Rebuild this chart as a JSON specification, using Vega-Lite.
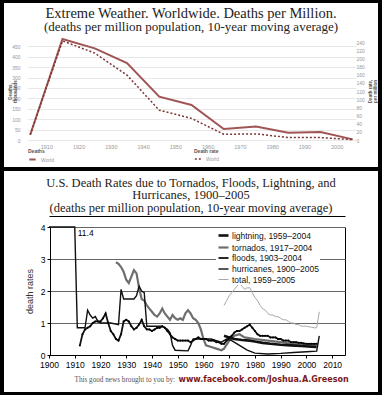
{
  "$schema": "https://vega.github.io/schema/vega-lite/v6.json",
  "background": "black",
  "padding": {"left": 4, "right": 4, "top": 3, "bottom": 3},
  "spacing": 4,
  "config": {"view": {"fill": "white", "stroke": null}, "font": "Liberation Sans"},
  "resolve": {
    "scale": {"color": "independent", "strokeDash": "independent", "strokeWidth": "independent"},
    "legend": {"color": "independent", "strokeDash": "independent", "strokeWidth": "independent"}
  },
  "datasets": {
    "world": [
      {"year": 1905, "deaths": 25, "rate": 13},
      {"year": 1915, "deaths": 485, "rate": 243},
      {"year": 1925, "deaths": 440, "rate": 213},
      {"year": 1935, "deaths": 370, "rate": 159},
      {"year": 1945, "deaths": 208, "rate": 73},
      {"year": 1955, "deaths": 168, "rate": 53},
      {"year": 1965, "deaths": 53, "rate": 14},
      {"year": 1975, "deaths": 65, "rate": 15},
      {"year": 1985, "deaths": 35, "rate": 6},
      {"year": 1995, "deaths": 38, "rate": 6},
      {"year": 2005, "deaths": 3, "rate": 1}
    ],
    "us": [
      {"s": "hurricanes, 1900–2005", "year": 1900, "v": 11.4},
      {"s": "hurricanes, 1900–2005", "year": 1905, "v": 11.4},
      {"s": "hurricanes, 1900–2005", "year": 1910, "v": 11.4},
      {"s": "hurricanes, 1900–2005", "year": 1911, "v": 0.85},
      {"s": "hurricanes, 1900–2005", "year": 1914, "v": 0.85},
      {"s": "hurricanes, 1900–2005", "year": 1915, "v": 1.4},
      {"s": "hurricanes, 1900–2005", "year": 1916, "v": 1.25},
      {"s": "hurricanes, 1900–2005", "year": 1917, "v": 1.15},
      {"s": "hurricanes, 1900–2005", "year": 1918, "v": 1.2},
      {"s": "hurricanes, 1900–2005", "year": 1919, "v": 1.05},
      {"s": "hurricanes, 1900–2005", "year": 1920, "v": 1.0},
      {"s": "hurricanes, 1900–2005", "year": 1924, "v": 1.0},
      {"s": "hurricanes, 1900–2005", "year": 1927, "v": 0.95},
      {"s": "hurricanes, 1900–2005", "year": 1928, "v": 2.05},
      {"s": "hurricanes, 1900–2005", "year": 1929, "v": 1.75},
      {"s": "hurricanes, 1900–2005", "year": 1933, "v": 1.75},
      {"s": "hurricanes, 1900–2005", "year": 1934, "v": 1.85},
      {"s": "hurricanes, 1900–2005", "year": 1935, "v": 2.15},
      {"s": "hurricanes, 1900–2005", "year": 1936, "v": 2.0},
      {"s": "hurricanes, 1900–2005", "year": 1937, "v": 1.95},
      {"s": "hurricanes, 1900–2005", "year": 1938, "v": 0.9},
      {"s": "hurricanes, 1900–2005", "year": 1944, "v": 0.9},
      {"s": "hurricanes, 1900–2005", "year": 1945, "v": 0.85},
      {"s": "hurricanes, 1900–2005", "year": 1946, "v": 0.8},
      {"s": "hurricanes, 1900–2005", "year": 1947, "v": 0.7},
      {"s": "hurricanes, 1900–2005", "year": 1948, "v": 0.3},
      {"s": "hurricanes, 1900–2005", "year": 1949, "v": 0.15},
      {"s": "hurricanes, 1900–2005", "year": 1954, "v": 0.13},
      {"s": "hurricanes, 1900–2005", "year": 1955, "v": 0.3},
      {"s": "hurricanes, 1900–2005", "year": 1956, "v": 0.5},
      {"s": "hurricanes, 1900–2005", "year": 1960, "v": 0.5},
      {"s": "hurricanes, 1900–2005", "year": 1963, "v": 0.5},
      {"s": "hurricanes, 1900–2005", "year": 1965, "v": 0.45},
      {"s": "hurricanes, 1900–2005", "year": 1967, "v": 0.4},
      {"s": "hurricanes, 1900–2005", "year": 1969, "v": 0.5},
      {"s": "hurricanes, 1900–2005", "year": 1971, "v": 0.45},
      {"s": "hurricanes, 1900–2005", "year": 1974, "v": 0.3},
      {"s": "hurricanes, 1900–2005", "year": 1977, "v": 0.15},
      {"s": "hurricanes, 1900–2005", "year": 1980, "v": 0.06},
      {"s": "hurricanes, 1900–2005", "year": 1985, "v": 0.03},
      {"s": "hurricanes, 1900–2005", "year": 1990, "v": 0.05},
      {"s": "hurricanes, 1900–2005", "year": 1995, "v": 0.08},
      {"s": "hurricanes, 1900–2005", "year": 2000, "v": 0.1},
      {"s": "hurricanes, 1900–2005", "year": 2004, "v": 0.12},
      {"s": "hurricanes, 1900–2005", "year": 2005, "v": 0.6},
      {"s": "tornados, 1917–2004", "year": 1926, "v": 2.9},
      {"s": "tornados, 1917–2004", "year": 1927, "v": 2.85},
      {"s": "tornados, 1917–2004", "year": 1928, "v": 2.75},
      {"s": "tornados, 1917–2004", "year": 1929, "v": 2.6},
      {"s": "tornados, 1917–2004", "year": 1930, "v": 2.35},
      {"s": "tornados, 1917–2004", "year": 1931, "v": 2.25},
      {"s": "tornados, 1917–2004", "year": 1932, "v": 2.45},
      {"s": "tornados, 1917–2004", "year": 1933, "v": 2.65},
      {"s": "tornados, 1917–2004", "year": 1934, "v": 2.55},
      {"s": "tornados, 1917–2004", "year": 1935, "v": 2.1},
      {"s": "tornados, 1917–2004", "year": 1936, "v": 1.75},
      {"s": "tornados, 1917–2004", "year": 1937, "v": 1.7},
      {"s": "tornados, 1917–2004", "year": 1938, "v": 1.55},
      {"s": "tornados, 1917–2004", "year": 1939, "v": 1.45},
      {"s": "tornados, 1917–2004", "year": 1940, "v": 1.35},
      {"s": "tornados, 1917–2004", "year": 1941, "v": 1.25},
      {"s": "tornados, 1917–2004", "year": 1942, "v": 1.2},
      {"s": "tornados, 1917–2004", "year": 1943, "v": 1.3},
      {"s": "tornados, 1917–2004", "year": 1944, "v": 1.45},
      {"s": "tornados, 1917–2004", "year": 1945, "v": 1.3},
      {"s": "tornados, 1917–2004", "year": 1946, "v": 1.2},
      {"s": "tornados, 1917–2004", "year": 1947, "v": 1.1},
      {"s": "tornados, 1917–2004", "year": 1948, "v": 1.25},
      {"s": "tornados, 1917–2004", "year": 1949, "v": 1.15},
      {"s": "tornados, 1917–2004", "year": 1950, "v": 1.1},
      {"s": "tornados, 1917–2004", "year": 1951, "v": 1.15},
      {"s": "tornados, 1917–2004", "year": 1952, "v": 1.1},
      {"s": "tornados, 1917–2004", "year": 1953, "v": 1.3},
      {"s": "tornados, 1917–2004", "year": 1954, "v": 1.4},
      {"s": "tornados, 1917–2004", "year": 1955, "v": 1.3},
      {"s": "tornados, 1917–2004", "year": 1956, "v": 1.15},
      {"s": "tornados, 1917–2004", "year": 1957, "v": 1.1},
      {"s": "tornados, 1917–2004", "year": 1958, "v": 1.0},
      {"s": "tornados, 1917–2004", "year": 1959, "v": 0.8},
      {"s": "tornados, 1917–2004", "year": 1960, "v": 0.5},
      {"s": "tornados, 1917–2004", "year": 1961, "v": 0.3},
      {"s": "tornados, 1917–2004", "year": 1963, "v": 0.25},
      {"s": "tornados, 1917–2004", "year": 1965, "v": 0.2},
      {"s": "tornados, 1917–2004", "year": 1967, "v": 0.15},
      {"s": "tornados, 1917–2004", "year": 1968, "v": 0.2},
      {"s": "tornados, 1917–2004", "year": 1970, "v": 0.45},
      {"s": "tornados, 1917–2004", "year": 1972, "v": 0.6},
      {"s": "tornados, 1917–2004", "year": 1974, "v": 0.65},
      {"s": "tornados, 1917–2004", "year": 1976, "v": 0.55},
      {"s": "tornados, 1917–2004", "year": 1980, "v": 0.5},
      {"s": "tornados, 1917–2004", "year": 1985, "v": 0.45},
      {"s": "tornados, 1917–2004", "year": 1990, "v": 0.4},
      {"s": "tornados, 1917–2004", "year": 1995, "v": 0.35},
      {"s": "tornados, 1917–2004", "year": 2000, "v": 0.3},
      {"s": "tornados, 1917–2004", "year": 2004, "v": 0.3},
      {"s": "floods, 1903–2004", "year": 1912, "v": 0.3},
      {"s": "floods, 1903–2004", "year": 1913, "v": 0.65},
      {"s": "floods, 1903–2004", "year": 1914, "v": 0.8},
      {"s": "floods, 1903–2004", "year": 1915, "v": 0.85},
      {"s": "floods, 1903–2004", "year": 1916, "v": 0.9},
      {"s": "floods, 1903–2004", "year": 1917, "v": 1.0},
      {"s": "floods, 1903–2004", "year": 1918, "v": 1.05},
      {"s": "floods, 1903–2004", "year": 1919, "v": 1.05},
      {"s": "floods, 1903–2004", "year": 1920, "v": 1.05},
      {"s": "floods, 1903–2004", "year": 1921, "v": 1.15},
      {"s": "floods, 1903–2004", "year": 1922, "v": 1.3},
      {"s": "floods, 1903–2004", "year": 1923, "v": 1.0},
      {"s": "floods, 1903–2004", "year": 1924, "v": 0.75},
      {"s": "floods, 1903–2004", "year": 1925, "v": 0.65},
      {"s": "floods, 1903–2004", "year": 1926, "v": 0.5},
      {"s": "floods, 1903–2004", "year": 1927, "v": 0.45},
      {"s": "floods, 1903–2004", "year": 1928, "v": 0.65},
      {"s": "floods, 1903–2004", "year": 1929, "v": 1.05},
      {"s": "floods, 1903–2004", "year": 1930, "v": 1.1},
      {"s": "floods, 1903–2004", "year": 1931, "v": 1.05},
      {"s": "floods, 1903–2004", "year": 1932, "v": 0.9},
      {"s": "floods, 1903–2004", "year": 1933, "v": 0.8},
      {"s": "floods, 1903–2004", "year": 1934, "v": 0.85},
      {"s": "floods, 1903–2004", "year": 1935, "v": 0.95},
      {"s": "floods, 1903–2004", "year": 1936, "v": 1.1},
      {"s": "floods, 1903–2004", "year": 1937, "v": 0.9},
      {"s": "floods, 1903–2004", "year": 1938, "v": 0.8},
      {"s": "floods, 1903–2004", "year": 1939, "v": 0.8},
      {"s": "floods, 1903–2004", "year": 1940, "v": 0.75},
      {"s": "floods, 1903–2004", "year": 1941, "v": 0.8},
      {"s": "floods, 1903–2004", "year": 1942, "v": 0.85},
      {"s": "floods, 1903–2004", "year": 1943, "v": 0.85},
      {"s": "floods, 1903–2004", "year": 1944, "v": 0.9},
      {"s": "floods, 1903–2004", "year": 1945, "v": 0.85},
      {"s": "floods, 1903–2004", "year": 1946, "v": 0.75},
      {"s": "floods, 1903–2004", "year": 1947, "v": 0.65},
      {"s": "floods, 1903–2004", "year": 1948, "v": 0.55},
      {"s": "floods, 1903–2004", "year": 1949, "v": 0.5},
      {"s": "floods, 1903–2004", "year": 1950, "v": 0.45},
      {"s": "floods, 1903–2004", "year": 1951, "v": 0.45},
      {"s": "floods, 1903–2004", "year": 1952, "v": 0.45},
      {"s": "floods, 1903–2004", "year": 1953, "v": 0.45},
      {"s": "floods, 1903–2004", "year": 1954, "v": 0.45},
      {"s": "floods, 1903–2004", "year": 1955, "v": 0.4},
      {"s": "floods, 1903–2004", "year": 1956, "v": 0.45},
      {"s": "floods, 1903–2004", "year": 1957, "v": 0.5},
      {"s": "floods, 1903–2004", "year": 1958, "v": 0.55},
      {"s": "floods, 1903–2004", "year": 1959, "v": 0.5},
      {"s": "floods, 1903–2004", "year": 1960, "v": 0.5},
      {"s": "floods, 1903–2004", "year": 1961, "v": 0.5},
      {"s": "floods, 1903–2004", "year": 1962, "v": 0.45},
      {"s": "floods, 1903–2004", "year": 1963, "v": 0.45},
      {"s": "floods, 1903–2004", "year": 1964, "v": 0.45},
      {"s": "floods, 1903–2004", "year": 1965, "v": 0.4},
      {"s": "floods, 1903–2004", "year": 1966, "v": 0.4},
      {"s": "floods, 1903–2004", "year": 1967, "v": 0.35},
      {"s": "floods, 1903–2004", "year": 1968, "v": 0.35},
      {"s": "floods, 1903–2004", "year": 1969, "v": 0.45},
      {"s": "floods, 1903–2004", "year": 1970, "v": 0.55},
      {"s": "floods, 1903–2004", "year": 1971, "v": 0.6},
      {"s": "floods, 1903–2004", "year": 1972, "v": 0.7},
      {"s": "floods, 1903–2004", "year": 1973, "v": 0.75},
      {"s": "floods, 1903–2004", "year": 1974, "v": 0.75},
      {"s": "floods, 1903–2004", "year": 1975, "v": 0.8},
      {"s": "floods, 1903–2004", "year": 1976, "v": 0.85},
      {"s": "floods, 1903–2004", "year": 1977, "v": 0.9},
      {"s": "floods, 1903–2004", "year": 1978, "v": 0.95},
      {"s": "floods, 1903–2004", "year": 1979, "v": 0.85},
      {"s": "floods, 1903–2004", "year": 1980, "v": 0.75},
      {"s": "floods, 1903–2004", "year": 1981, "v": 0.65},
      {"s": "floods, 1903–2004", "year": 1982, "v": 0.6},
      {"s": "floods, 1903–2004", "year": 1983, "v": 0.6},
      {"s": "floods, 1903–2004", "year": 1984, "v": 0.6},
      {"s": "floods, 1903–2004", "year": 1985, "v": 0.6},
      {"s": "floods, 1903–2004", "year": 1986, "v": 0.55},
      {"s": "floods, 1903–2004", "year": 1987, "v": 0.55},
      {"s": "floods, 1903–2004", "year": 1988, "v": 0.55},
      {"s": "floods, 1903–2004", "year": 1989, "v": 0.5},
      {"s": "floods, 1903–2004", "year": 1990, "v": 0.5},
      {"s": "floods, 1903–2004", "year": 1991, "v": 0.45},
      {"s": "floods, 1903–2004", "year": 1992, "v": 0.45},
      {"s": "floods, 1903–2004", "year": 1993, "v": 0.45},
      {"s": "floods, 1903–2004", "year": 1994, "v": 0.4},
      {"s": "floods, 1903–2004", "year": 1995, "v": 0.4},
      {"s": "floods, 1903–2004", "year": 1996, "v": 0.4},
      {"s": "floods, 1903–2004", "year": 1997, "v": 0.38},
      {"s": "floods, 1903–2004", "year": 1998, "v": 0.38},
      {"s": "floods, 1903–2004", "year": 1999, "v": 0.36},
      {"s": "floods, 1903–2004", "year": 2000, "v": 0.35},
      {"s": "floods, 1903–2004", "year": 2001, "v": 0.35},
      {"s": "floods, 1903–2004", "year": 2002, "v": 0.35},
      {"s": "floods, 1903–2004", "year": 2003, "v": 0.35},
      {"s": "floods, 1903–2004", "year": 2004, "v": 0.35},
      {"s": "lightning, 1959–2004", "year": 1968, "v": 0.6},
      {"s": "lightning, 1959–2004", "year": 1970, "v": 0.55},
      {"s": "lightning, 1959–2004", "year": 1972, "v": 0.5},
      {"s": "lightning, 1959–2004", "year": 1975, "v": 0.47},
      {"s": "lightning, 1959–2004", "year": 1978, "v": 0.45},
      {"s": "lightning, 1959–2004", "year": 1980, "v": 0.42},
      {"s": "lightning, 1959–2004", "year": 1983, "v": 0.38},
      {"s": "lightning, 1959–2004", "year": 1986, "v": 0.35},
      {"s": "lightning, 1959–2004", "year": 1990, "v": 0.32},
      {"s": "lightning, 1959–2004", "year": 1994, "v": 0.3},
      {"s": "lightning, 1959–2004", "year": 1998, "v": 0.28},
      {"s": "lightning, 1959–2004", "year": 2002, "v": 0.26},
      {"s": "lightning, 1959–2004", "year": 2004, "v": 0.25},
      {"s": "total, 1959–2005", "year": 1968, "v": 1.55},
      {"s": "total, 1959–2005", "year": 1969, "v": 1.7},
      {"s": "total, 1959–2005", "year": 1970, "v": 1.85},
      {"s": "total, 1959–2005", "year": 1971, "v": 1.95},
      {"s": "total, 1959–2005", "year": 1972, "v": 2.05},
      {"s": "total, 1959–2005", "year": 1973, "v": 2.15},
      {"s": "total, 1959–2005", "year": 1974, "v": 2.25},
      {"s": "total, 1959–2005", "year": 1975, "v": 2.15},
      {"s": "total, 1959–2005", "year": 1976, "v": 2.05},
      {"s": "total, 1959–2005", "year": 1977, "v": 2.1},
      {"s": "total, 1959–2005", "year": 1978, "v": 2.1},
      {"s": "total, 1959–2005", "year": 1979, "v": 1.95},
      {"s": "total, 1959–2005", "year": 1980, "v": 1.8},
      {"s": "total, 1959–2005", "year": 1981, "v": 1.7},
      {"s": "total, 1959–2005", "year": 1982, "v": 1.55},
      {"s": "total, 1959–2005", "year": 1983, "v": 1.45},
      {"s": "total, 1959–2005", "year": 1984, "v": 1.4},
      {"s": "total, 1959–2005", "year": 1985, "v": 1.3},
      {"s": "total, 1959–2005", "year": 1986, "v": 1.25},
      {"s": "total, 1959–2005", "year": 1987, "v": 1.25},
      {"s": "total, 1959–2005", "year": 1988, "v": 1.2},
      {"s": "total, 1959–2005", "year": 1989, "v": 1.2},
      {"s": "total, 1959–2005", "year": 1990, "v": 1.15},
      {"s": "total, 1959–2005", "year": 1991, "v": 1.1},
      {"s": "total, 1959–2005", "year": 1992, "v": 1.1},
      {"s": "total, 1959–2005", "year": 1993, "v": 1.05},
      {"s": "total, 1959–2005", "year": 1994, "v": 1.0},
      {"s": "total, 1959–2005", "year": 1995, "v": 1.0},
      {"s": "total, 1959–2005", "year": 1996, "v": 0.95},
      {"s": "total, 1959–2005", "year": 1997, "v": 0.95},
      {"s": "total, 1959–2005", "year": 1998, "v": 0.9},
      {"s": "total, 1959–2005", "year": 1999, "v": 0.9},
      {"s": "total, 1959–2005", "year": 2000, "v": 0.9},
      {"s": "total, 1959–2005", "year": 2001, "v": 0.88},
      {"s": "total, 1959–2005", "year": 2002, "v": 0.87},
      {"s": "total, 1959–2005", "year": 2003, "v": 0.85},
      {"s": "total, 1959–2005", "year": 2004, "v": 0.85},
      {"s": "total, 1959–2005", "year": 2005, "v": 1.35}
    ]
  },
  "vconcat": [
    {
      "width": 374,
      "height": 164,
      "title": {
        "text": "Extreme Weather. Worldwide. Deaths per Million.",
        "subtitle": "(deaths per million population, 10-year moving average)",
        "font": "Liberation Serif", "fontSize": 14.5, "fontWeight": "normal", "color": "#222",
        "subtitleFont": "Liberation Serif", "subtitleFontSize": 13, "subtitleColor": "#222",
        "subtitlePadding": 0, "offset": -32, "anchor": "middle", "frame": "group"
      },
      "data": {"name": "world"},
      "encoding": {
        "x": {
          "field": "year", "type": "quantitative",
          "scale": {"domain": [1904, 2006], "range": [23, 352], "zero": false, "nice": false},
          "axis": {"values": [1910, 1920, 1930, 1940, 1950, 1960, 1970, 1980, 1990, 2000], "format": "d",
            "labelFontSize": 5.5, "labelColor": "#999", "domain": false, "ticks": false, "grid": false,
            "offset": -27, "labelPadding": 4, "title": null}
        }
      },
      "layer": [
        {
          "mark": {"type": "line", "strokeWidth": 2},
          "encoding": {
            "y": {
              "field": "deaths", "type": "quantitative",
              "scale": {"domain": [0, 490], "range": [137, 35], "nice": false},
              "axis": {"orient": "left", "values": [0, 50, 100, 150, 200, 250, 300, 350, 400, 450],
                "grid": true, "gridColor": "#e2e2e2", "gridWidth": 0.8, "domain": false, "ticks": false,
                "labelFontSize": 5, "labelColor": "#999", "offset": -20, "labelPadding": 4,
                "title": ["Deaths,", "thousands"], "titleFontSize": 4.5, "titleFontWeight": "bold",
                "titleColor": "#555", "titleX": -14, "titleY": 88, "titleAlign": "center", "titleBaseline": "middle",
                "titleAngle": 270, "titleLineHeight": 5}
            },
            "color": {
              "datum": "World",
              "scale": {"range": ["#a05555"]},
              "legend": {"title": "Deaths", "orient": "none", "legendX": 24, "legendY": 146,
                "titleFontSize": 5, "titleFontWeight": "bold", "titleColor": "#555", "titlePadding": 1,
                "labelFontSize": 5, "labelColor": "#999", "symbolSize": 40, "symbolStrokeWidth": 2, "padding": 0}
            }
          }
        },
        {
          "mark": {"type": "line", "strokeWidth": 1.5, "color": "#7d3535"},
          "encoding": {
            "y": {
              "field": "rate", "type": "quantitative",
              "scale": {"domain": [0, 250], "range": [137, 35], "nice": false},
              "axis": {"orient": "right", "values": [0, 20, 40, 60, 80, 100, 120, 140, 160, 180, 200, 220, 240],
                "grid": false, "domain": false, "ticks": false,
                "labelFontSize": 5, "labelColor": "#999", "offset": -24, "labelPadding": 2,
                "title": ["Death rate,", "per million"], "titleFontSize": 4.5, "titleFontWeight": "bold",
                "titleColor": "#555", "titleX": 16, "titleY": 88, "titleAlign": "center", "titleBaseline": "middle",
                "titleAngle": 270, "titleLineHeight": 5}
            },
            "strokeDash": {
              "datum": "World rate",
              "scale": {"range": [[2, 2]]},
              "legend": {"title": "Death rate", "orient": "none", "legendX": 190, "legendY": 146,
                "labelExpr": "'World'",
                "titleFontSize": 5, "titleFontWeight": "bold", "titleColor": "#555", "titlePadding": 1,
                "labelFontSize": 5, "labelColor": "#999", "symbolSize": 40, "symbolStrokeWidth": 1.5,
                "symbolStrokeColor": "#7d3535", "padding": 0}
            }
          }
        }
      ],
      "resolve": {"scale": {"y": "independent"}}
    },
    {
      "width": 374,
      "height": 221,
      "title": {
        "text": ["U.S. Death Rates due to Tornados, Floods, Lightning, and", "Hurricanes, 1900–2005"],
        "subtitle": "(deaths per million population, 10-year moving average)",
        "font": "Liberation Serif", "fontSize": 12.5, "lineHeight": 12.5, "fontWeight": "normal", "color": "#222",
        "subtitleFont": "Liberation Serif", "subtitleFontSize": 12.5, "subtitleColor": "#222",
        "subtitlePadding": 0, "offset": -43, "anchor": "middle", "frame": "group"
      },
      "data": {"name": "us"},
      "encoding": {
        "y": {
          "field": "v", "type": "quantitative",
          "scale": {"domain": [0, 4], "range": [184, 56], "clamp": true, "nice": false},
          "axis": {"values": [0, 1, 2, 3, 4], "grid": true, "gridColor": "#666", "gridWidth": 1,
            "domainColor": "#000", "tickColor": "#000", "tickSize": 3, "labelFontSize": 8.5, "labelColor": "#000",
            "offset": -46, "labelPadding": 2, "title": "death rates", "titleFontSize": 9, "titleFontWeight": "normal",
            "titleColor": "#333", "titlePadding": 6}
        }
      },
      "layer": [
        {
          "transform": [{"filter": {"field": "s", "oneOf": ["tornados, 1917–2004", "total, 1959–2005"]}}],
          "mark": {"type": "line"},
          "encoding": {
            "x": {
              "field": "year", "type": "quantitative",
              "scale": {"domain": [1900, 2015], "range": [45, 341], "zero": false, "nice": false},
              "axis": {"orient": "bottom", "offset": -37, "labels": false, "ticks": false, "domain": false, "grid": false,
                "title": "www.facebook.com/Joshua.A.Greeson", "titleFont": "DejaVu Sans", "titleFontSize": 8,
                "titleFontWeight": "bold", "titleColor": "#7a1a1a", "titleX": 174, "titleY": 24,
                "titleAlign": "left", "titleBaseline": "middle"}
            },
            "color": {
              "field": "s", "type": "nominal",
              "scale": {"domain": ["lightning, 1959–2004", "tornados, 1917–2004", "floods, 1903–2004", "hurricanes, 1900–2005", "total, 1959–2005"],
                "range": ["#111111", "#6e6e6e", "#111111", "#111111", "#a8a8a8"]},
              "legend": {"title": null, "orient": "none", "legendX": 212, "legendY": 57, "symbolType": "stroke",
                "symbolSize": 100, "labelFontSize": 8.5, "labelColor": "#111", "rowPadding": -1,
                "fillColor": "white", "padding": 1, "labelOffset": 2}
            },
            "strokeWidth": {
              "field": "s", "type": "nominal",
              "scale": {"domain": ["lightning, 1959–2004", "tornados, 1917–2004", "floods, 1903–2004", "hurricanes, 1900–2005", "total, 1959–2005"],
                "range": [2.6, 1, 1.2, 1.4, 1.6]},
              "legend": {"title": null, "orient": "none", "legendX": 212, "legendY": 57, "symbolType": "stroke",
                "symbolSize": 100, "labelFontSize": 8.5, "labelColor": "#111", "rowPadding": -1,
                "fillColor": "white", "padding": 1, "labelOffset": 2}
            }
          }
        },
        {
          "transform": [{"filter": {"field": "s", "oneOf": ["lightning, 1959–2004", "floods, 1903–2004", "hurricanes, 1900–2005"]}}],
          "mark": {"type": "line"},
          "encoding": {
            "x": {
              "field": "year", "type": "quantitative",
              "scale": {"domain": [1900, 2015], "range": [45, 341], "zero": false, "nice": false},
              "axis": {"orient": "bottom", "values": [1900, 1910, 1920, 1930, 1940, 1950, 1960, 1970, 1980, 1990, 2000, 2010],
                "format": "d", "offset": -37, "domainColor": "#000", "tickColor": "#000", "tickSize": 3,
                "labelFontSize": 8.5, "labelColor": "#000", "labelPadding": 2, "grid": false, "title": null, "labelFlush": false}
            },
            "color": {
              "field": "s", "type": "nominal",
              "scale": {"domain": ["lightning, 1959–2004", "tornados, 1917–2004", "floods, 1903–2004", "hurricanes, 1900–2005", "total, 1959–2005"],
                "range": ["#111111", "#6e6e6e", "#111111", "#111111", "#a8a8a8"]},
              "legend": {"title": null, "orient": "none", "legendX": 212, "legendY": 57, "symbolType": "stroke",
                "symbolSize": 100, "labelFontSize": 8.5, "labelColor": "#111", "rowPadding": -1,
                "fillColor": "white", "padding": 1, "labelOffset": 2}
            },
            "strokeWidth": {
              "field": "s", "type": "nominal",
              "scale": {"domain": ["lightning, 1959–2004", "tornados, 1917–2004", "floods, 1903–2004", "hurricanes, 1900–2005", "total, 1959–2005"],
                "range": [2.6, 1, 1.2, 1.4, 1.6]},
              "legend": {"title": null, "orient": "none", "legendX": 212, "legendY": 57, "symbolType": "stroke",
                "symbolSize": 100, "labelFontSize": 8.5, "labelColor": "#111", "rowPadding": -1,
                "fillColor": "white", "padding": 1, "labelOffset": 2}
            }
          }
        },
        {
          "transform": [{"filter": {"field": "s", "equal": "floods, 1903–2004"}}],
          "mark": {"type": "point", "filled": true, "size": 4, "color": "#000", "opacity": 1},
          "encoding": {
            "x": {
              "field": "year", "type": "quantitative",
              "scale": {"domain": [1900, 2015], "range": [45, 341], "zero": false, "nice": false},
              "axis": {"orient": "top", "values": [2015], "grid": true, "gridColor": "#000", "gridWidth": 1,
                "labels": false, "ticks": false, "domain": true, "domainColor": "#000", "domainWidth": 1,
                "offset": -45, "title": null}
            }
          }
        },
        {
          "transform": [{"filter": {"and": [{"field": "s", "equal": "hurricanes, 1900–2005"}, {"field": "year", "equal": 1910}]}}],
          "mark": {"type": "text", "align": "left", "baseline": "middle", "dx": 3, "dy": 6, "fontSize": 8.5, "color": "#000"},
          "encoding": {
            "x": {
              "field": "year", "type": "quantitative",
              "scale": {"domain": [1900, 2015], "range": [45, 341], "zero": false, "nice": false},
              "axis": {"orient": "bottom", "offset": -37, "labels": false, "ticks": false, "domain": false, "grid": false,
                "title": "This good news brought to you by:", "titleFont": "Liberation Serif", "titleFontSize": 7.2,
                "titleFontWeight": "normal", "titleColor": "#555", "titleX": 70, "titleY": 24,
                "titleAlign": "left", "titleBaseline": "middle"}
            },
            "text": {"field": "v", "type": "quantitative", "format": ".1f"}
          }
        }
      ],
      "resolve": {"axis": {"x": "independent"}}
    }
  ]
}
